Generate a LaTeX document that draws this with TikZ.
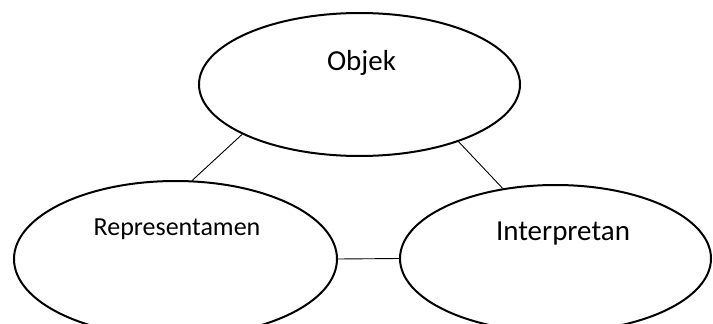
\documentclass[tikz,border=0pt]{standalone}
\usepackage{fontspec}
\setmainfont{Carlito}
\usetikzlibrary{shapes.geometric}
\begin{document}
\begin{tikzpicture}[x=1pt, y=-1pt]
  \tikzset{
    sign/.style={draw, ellipse, line width=2pt, inner sep=0pt},
    link/.style={line width=0.9pt},
    word/.style={anchor=base, font=\fontsize{29}{34}\selectfont}
  }
  \useasboundingbox (0,0) rectangle (713,324);

  % Ellipses
  \node[sign, minimum width=321pt, minimum height=143pt] (objek) at (359.5,84.5) {};
  \node[sign, minimum width=323pt, minimum height=156pt] (repr) at (175.5,259) {};
  \node[sign, minimum width=311pt, minimum height=147pt] (interp) at (555.5,258.5) {};

  % Labels (set high in the ellipses)
  \node[word] (objekText) at (361.5,70) {Objek};
  \node[word, font=\fontsize{26}{31}\selectfont] (reprText) at (177,235.5) {Representamen};
  \node[word] (interpText) at (563,240.5) {Interpretan};

  % Connectors
  \draw[link] (objek.203.6) -- (repr.78.9);
  \draw[link] (objek.-30.1) -- (interp.127.3);
  \draw[link] (repr.east) -- (interp.west);
\end{tikzpicture}
\end{document}
